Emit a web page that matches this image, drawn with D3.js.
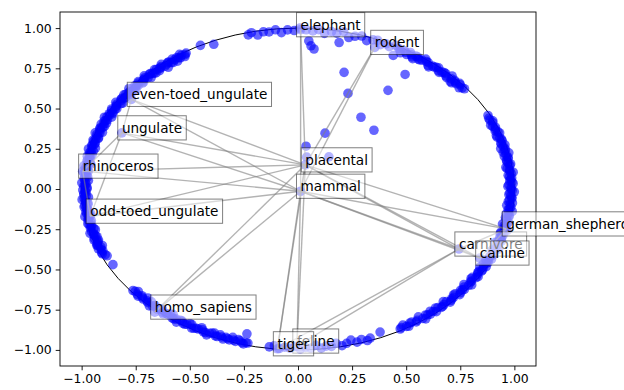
<!DOCTYPE html>
<html>
<head>
<meta charset="utf-8">
<script src="https://cdn.jsdelivr.net/npm/d3@7"></script>
<style>
  body { margin: 0; background: #fff; }
  svg text { font-family: "DejaVu Sans", sans-serif; }
</style>
</head>
<body>
<script>
// axis setup
const xDomain = [-1.1, 1.1];
const yDomain = [-1.1, 1.1];
const tickValues = [-1, -0.75, -0.5, -0.25, 0, 0.25, 0.5, 0.75, 1];

// labelled nodes (drawing order matters for overlapping boxes)
const nodeNames = ["mammal", "placental", "elephant", "rodent", "even-toed_ungulate", "ungulate",
  "rhinoceros", "odd-toed_ungulate", "homo_sapiens", "feline", "tiger", "carnivore", "canine", "german_shepherd"];
const nodeX = [0.012, 0.034, 0.012, 0.355, -0.77, -0.814, -0.995, -0.96, -0.662, -0.005, -0.095, 0.744, 0.84, 0.963];
const nodeY = [-0.014, 0.15, 0.99, 0.88, 0.557, 0.349, 0.111, -0.169, -0.765, -0.976, -0.993, -0.373, -0.429, -0.248];

// edges between labelled nodes
const edges = [
  ["placental", "mammal"],
  ["elephant", "placental"], ["elephant", "mammal"],
  ["rodent", "placental"], ["rodent", "mammal"],
  ["even-toed_ungulate", "placental"], ["even-toed_ungulate", "mammal"], ["even-toed_ungulate", "ungulate"],
  ["ungulate", "placental"], ["ungulate", "mammal"],
  ["rhinoceros", "placental"], ["rhinoceros", "mammal"], ["rhinoceros", "ungulate"], ["rhinoceros", "odd-toed_ungulate"],
  ["odd-toed_ungulate", "placental"], ["odd-toed_ungulate", "mammal"], ["odd-toed_ungulate", "ungulate"],
  ["homo_sapiens", "placental"], ["homo_sapiens", "mammal"],
  ["feline", "placental"], ["feline", "mammal"], ["feline", "carnivore"],
  ["tiger", "placental"], ["tiger", "mammal"], ["tiger", "carnivore"], ["tiger", "feline"],
  ["carnivore", "placental"], ["carnivore", "mammal"],
  ["canine", "placental"], ["canine", "mammal"], ["canine", "carnivore"],
  ["german_shepherd", "placental"], ["german_shepherd", "mammal"],
  ["german_shepherd", "carnivore"], ["german_shepherd", "canine"]
];

// points near the rim, [angle in degrees, radius]
const rimRight = [[-61.5,.99],[-60.2,.975],[-59,.995],[-57.6,.98],[-56.5,.99],[-55,.97],[-53.8,1],[-52.5,.985],
  [-51.2,.975],[-50,.995],[-48.7,.98],[-47.5,.99],[-46.2,.97],[-45,.995],[-43.8,.985],[-42.5,.975],[-41.3,.995],
  [-40,.98],[-39,.99],[-37.8,.97],[-36.6,1],[-35.5,.985],[-34.3,.975],[-33.2,.995],[-32,.98],[-31,.99],[-30,.97],
  [-29,.995],[-28,.985],[-27,.975],[-26,.995],[-25,.98],[-24,.99],[-23,.975],[-22,1],[-21,.985],[-20,.97],[-19,.995],
  [-18,.98],[-17,.99],[-16,.975],[-15,1],[-14,.985],[-13,.97],[-12,.995],[-11,.98],[-10,.99],[-9,.975],[-8,1],
  [-7,.985],[-6,.97],[-5,.995],[-4,.98],[-3,.99],[-2,.975],[-1,1],[0,.985],[1,.97],[2,.995],[3,.98],[4,.99],
  [5,.975],[6,1],[7,.985],[8,.97],[9,.995],[10,.98],[11,.99],[12,.975],[13,1],[14,.985],[15,.97],[16,.995],[17,.98],
  [18.2,.99],[19.3,.975],[20.5,.995],[21.6,.98],[22.8,.99],[24,.975],[25.2,.995],[26.5,.985],[27.5,.99]];
const rimRight2 = [[-61,.985],[-59.6,.99],[-58.2,.98],[-56,.985],[-54.4,.99],[-53,.98],[-51.8,.99],[-50.6,.985],
  [-49.3,.975],[-48,.99],[-46.8,.985],[-45.6,.98],[-44.4,.99],[-43.1,.985],[-41.9,.975],[-40.6,.99],[-39.5,.985],
  [-38.4,.98],[-37.2,.99],[-36,.985],[-34.9,.975],[-33.8,.99],[-32.6,.985],[-31.5,.98],[-30.5,.99],[-29.5,.985],
  [-28.5,.975],[-27.5,.99],[-26.5,.985],[-25.5,.98],[-24.5,.99],[-23.5,.985],[-22.5,.975],[-21.5,.99],[-20.5,.985],
  [-19.5,.98],[-18.5,.99],[-17.5,.985],[-16.5,.975],[-15.5,.99],[-14.5,.985],[-13.5,.98],[-12.5,.99],[-11.5,.985],
  [-10.5,.975],[-9.5,.99],[-8.5,.985],[-7.5,.98],[-6.5,.99],[-5.5,.985],[-4.5,.975],[-3.5,.99],[-2.5,.985],
  [-1.5,.98],[-0.5,.99],[0.5,.985],[1.5,.975],[2.5,.99],[3.5,.985],[4.5,.98],[5.5,.99],[6.5,.985],[7.5,.975],
  [8.5,.99],[9.5,.985],[10.5,.98],[11.5,.99],[12.5,.985],[13.5,.975],[14.5,.99],[15.5,.985],[16.5,.98],[17.6,.99],
  [18.8,.985],[19.9,.975],[21,.99],[22.2,.985],[23.4,.98],[24.6,.99],[25.8,.985]];
const rimTopRight = [[39,.99],[40.2,.975],[41.3,.995],[42.5,.985],[43.5,.97],[44.6,1],[45.8,.98],[47,.99],[48,.975],
  [49.2,.995],[50.3,.985],[51.5,.97],[52.6,.99],[53.8,1],[55,.98],[56,.99],[57.3,.975],[58.5,.995],[59.6,.985],
  [60.8,.97],[62,.99],[63.2,1],[64.5,.98],[65.7,.99],[67,.975],[68.3,.995],
  [39.6,.985],[40.8,.99],[41.9,.98],[43,.99],[44,.985],[45.2,.975],[46.4,.99],[47.5,.985],[48.6,.98],[49.8,.99],
  [50.9,.985],[52,.975],[53.2,.99],[54.4,.985],[55.5,.98],[56.6,.99],[57.9,.985],[59,.975],[60.2,.99],[61.4,.985]];
const rimTop = [[69.5,.99],[71,.975],[72.8,.995],[74.5,.985],[76,.97],[77.8,1],[79.5,.985],[81,.99],[82.8,.975],
  [84.5,.995],[86,.985],[87.8,.99],[89.5,1],[91,.985],[92.8,.99],[94.5,.975],[96,.995],[97.8,.985],[99.3,.99],
  [101,.975],[102.5,.995],[103.5,.985],[113.4,.98],[116.8,1]];
const rimLeft = [[121.5,.99],[122.4,.975],[123.2,1],[124.1,.985],[125,.97],[125.8,.995],[126.7,.98],[127.5,.99],
  [128.4,.965],[129.2,1],[130.1,.985],[131,.975],[131.8,.995],[132.7,.98],[133.6,.99],[134.4,.97],[135.3,1],
  [136.2,.985],[137,.975],[137.9,.995],[138.8,.98],[139.6,.99],[140.5,.97],[141.4,1],[142.2,.985],[143.1,.975],
  [144,.995],[144.8,.98],[145.7,.99],[146.6,.97],[147.4,1],[148.3,.985],[149.2,.975],[150,.995],[150.9,.98],
  [151.8,.99],[152.6,.97],[153.5,1],[154.4,.985],[155.2,.975],[156.1,.995],[157,.98],[157.8,.99],[158.7,.97],
  [159.6,1],[160.4,.985],[161.3,.975],[162.2,.995],[163,.98],[163.9,.99],[164.8,.97],[165.6,1],[166.5,.985],
  [167.4,.975],[168.2,.995],[169.1,.98],[170,.99],[170.8,.97],[171.7,1],[172.6,.985],[173.4,.975],[174.3,.995],
  [175.2,.98],[176,.99],[176.9,.97],[177.8,1],[178.6,.985],[179.5,.975],[180.4,.995],[181.2,.98],[182.1,.99],
  [183,.97],[183.8,1],[184.7,.985],[185.6,.975],[186.4,.995],[187.3,.98],[188.2,.99],[189,.97],[189.9,1],
  [190.8,.985],[191.6,.975],[192.5,.995],[193.4,.98],[194.2,.99],[195.1,.97],[196,1],[196.8,.985],[197.7,.975],
  [198.6,.995],[199.4,.98],[200.3,.99],[201.2,.97],[202,.995],[203,.98],[204,.99],[205.2,.975],[208.8,.976]];
const rimLeft2 = [[122,.985],[122.9,.99],[123.7,.98],[124.6,.99],[125.4,.985],[126.3,.975],[127.1,.99],[128,.985],
  [128.8,.98],[129.7,.99],[130.6,.985],[131.4,.99],[132.3,.975],[133.1,.985],[134,.99],[134.9,.98],[135.7,.99],
  [136.6,.985],[137.5,.975],[138.3,.99],[139.2,.985],[140.1,.98],[140.9,.99],[141.8,.975],[142.7,.985],[143.5,.99],
  [144.4,.98],[145.3,.99],[146.1,.985],[147,.975],[147.9,.99],[148.7,.985],[149.6,.98],[150.5,.99],[151.3,.975],
  [152.2,.985],[153.1,.99],[154,.98],[154.8,.99],[155.7,.985],[156.5,.975],[157.4,.99],[158.3,.985],[159.1,.98],
  [160,.99],[160.9,.975],[161.7,.985],[162.6,.99],[163.5,.98],[164.3,.99],[165.2,.985],[166,.975],[166.9,.99],
  [167.8,.985],[168.6,.98],[169.5,.99],[170.4,.975],[171.2,.985],[172.1,.99],[173,.98],[173.8,.99],[174.7,.985],
  [175.6,.975],[176.4,.99],[177.3,.985],[178.2,.98],[179,.99],[179.9,.975],[180.8,.985],[181.6,.99],[182.5,.98],
  [183.4,.99],[184.2,.985],[185.1,.975],[186,.99],[186.8,.985],[187.7,.98],[188.6,.99],[189.4,.975],[190.3,.985],
  [191.2,.99],[192,.98],[192.9,.99],[193.8,.985],[194.6,.975],[195.5,.99],[196.4,.985],[197.2,.98],[198.1,.99],
  [199,.975],[199.8,.985],[200.7,.99],[201.6,.98],[202.5,.985],[203.5,.99],[204.6,.98]];
const rimBottom = [[219.6,.99],[220.8,.975],[222,.995],[223.1,.985],[224.3,.97],[225.4,.99],[226.6,1],[227.7,.98],
  [228.9,.99],[230,.975],[231.2,.995],[232.3,.985],[233.5,.97],[234.6,.99],[235.8,1],[236.9,.98],[238.1,.99],
  [239.2,.975],[240.4,.995],[241.5,.985],[242.7,.97],[243.8,.99],[245,1],[246.1,.98],[247.3,.99],[248.4,.975],
  [249.6,.995],[250.7,.985],[251.9,.97],[253,.99],[254.2,.98],[255.3,.995],[256.4,.985],
  [220.2,.985],[221.4,.99],[222.6,.98],[223.7,.99],[224.9,.985],[226,.975],[227.2,.99],[228.3,.985],[229.5,.98],
  [230.6,.99],[231.8,.985],[232.9,.975],[234,.99],[235.2,.985],[236.3,.98],[237.5,.99],[238.6,.985],[239.8,.975],
  [240.9,.99],[242.1,.985],[243.2,.98],[244.4,.99],[245.5,.985],[246.7,.975],[247.8,.99],[249,.985],[250.1,.98],
  [251.3,.99],[252.4,.985],[253.6,.975],[254.8,.99],[255.9,.985],
  [262.3,.99],[263.6,.98],[265,.995],[266.4,.985],[267.8,.99],[269.2,.98],[270.6,.995],[272,.985],[273.4,.99],
  [274.8,.975],[276.2,.995],[277.6,.985],[279,.99],[280.4,.975],[281.8,.995],[283.2,.985],[284.6,.97],[286,.99],
  [287.4,.98],[288.8,.995],[289.8,.985],[293.1,.967]];

// loose points inside the disc
const innerX = [0.213, 0.231, 0.416, 0.495, 0.291, 0.351, 0.125, 0.037, 0.143, 0.04, 0.06, 0.074, 0.05, 0.19,
  0.44, 0.53, 0.71, -0.236, -0.93];
const innerY = [0.725, 0.594, 0.613, 0.712, 0.446, 0.365, 0.347, 0.266, 0.2, 0.198, 0.89, 0.87, 0.92, 0.91,
  0.83, 0.81, 0.66, -0.9, -0.35];

const W = 624, H = 390;
const margin = {left: 60, right: 88, top: 12, bottom: 24};

const svg = d3.select("body").append("svg")
  .attr("width", W)
  .attr("height", H)
  .attr("viewBox", [0, 0, W, H]);

const x = d3.scaleLinear().domain(xDomain).range([margin.left, W - margin.right]);
const y = d3.scaleLinear().domain(yDomain).range([H - margin.bottom, margin.top]);

// unit circle
svg.append("ellipse")
  .attr("cx", x(0)).attr("cy", y(0))
  .attr("rx", x(1) - x(0)).attr("ry", y(0) - y(1))
  .attr("fill", "none")
  .attr("stroke", "#000")
  .attr("stroke-width", 1);

// all scatter points
const toXY = d => [d[1] * Math.cos(d[0] * Math.PI / 180), d[1] * Math.sin(d[0] * Math.PI / 180)];
const points = []
  .concat(rimRight, rimRight2, rimTopRight, rimTop, rimLeft, rimLeft2, rimBottom).map(toXY)
  .concat(innerX.map((v, i) => [v, innerY[i]]))
  .concat(nodeX.map((v, i) => [v, nodeY[i]]));

svg.append("g")
  .selectAll("circle")
  .data(points)
  .join("circle")
    .attr("cx", d => x(d[0]))
    .attr("cy", d => y(d[1]))
    .attr("r", 4.8)
    .attr("fill", "blue")
    .attr("fill-opacity", 0.6);

// edges
const pos = new Map(nodeNames.map((n, i) => [n, [nodeX[i], nodeY[i]]]));
svg.append("g")
  .selectAll("line")
  .data(edges)
  .join("line")
    .attr("x1", d => x(pos.get(d[0])[0]))
    .attr("y1", d => y(pos.get(d[0])[1]))
    .attr("x2", d => x(pos.get(d[1])[0]))
    .attr("y2", d => y(pos.get(d[1])[1]))
    .attr("stroke", "#808080")
    .attr("stroke-opacity", 0.6)
    .attr("stroke-width", 1.4);

// axes
const fmt = d3.format(".2f");
const xAxis = svg.append("g")
  .attr("transform", `translate(0,${H - margin.bottom})`)
  .call(d3.axisBottom(x).tickValues(tickValues).tickFormat(fmt).tickSize(4.3).tickPadding(4).tickSizeOuter(0));
const yAxis = svg.append("g")
  .attr("transform", `translate(${margin.left},0)`)
  .call(d3.axisLeft(y).tickValues(tickValues).tickFormat(fmt).tickSize(4.3).tickPadding(4).tickSizeOuter(0));
[xAxis, yAxis].forEach(a => {
  a.select(".domain").remove();
  a.selectAll("text").attr("font-size", 12.4).attr("font-family", "DejaVu Sans").attr("fill", "#000");
  a.selectAll("line").attr("stroke", "#000").attr("stroke-width", 0.9);
});

svg.append("rect")
  .attr("x", margin.left).attr("y", margin.top)
  .attr("width", W - margin.left - margin.right)
  .attr("height", H - margin.top - margin.bottom)
  .attr("fill", "none")
  .attr("stroke", "#000")
  .attr("stroke-width", 0.9);

// labels with translucent boxes
const pad = 4.1;
nodeNames.forEach((name, i) => {
  const g = svg.append("g");
  const rect = g.append("rect");
  const t = g.append("text")
    .attr("x", x(nodeX[i]))
    .attr("y", y(nodeY[i]))
    .attr("font-size", 13.6)
    .attr("fill", "#000")
    .text(name);
  const b = t.node().getBBox();
  rect.attr("x", b.x - pad).attr("y", b.y - pad)
    .attr("width", b.width + 2 * pad).attr("height", b.height + 2 * pad)
    .attr("fill", "#fff").attr("fill-opacity", 0.5)
    .attr("stroke", "#000").attr("stroke-opacity", 0.5).attr("stroke-width", 1);
});
</script>
</body>
</html>
